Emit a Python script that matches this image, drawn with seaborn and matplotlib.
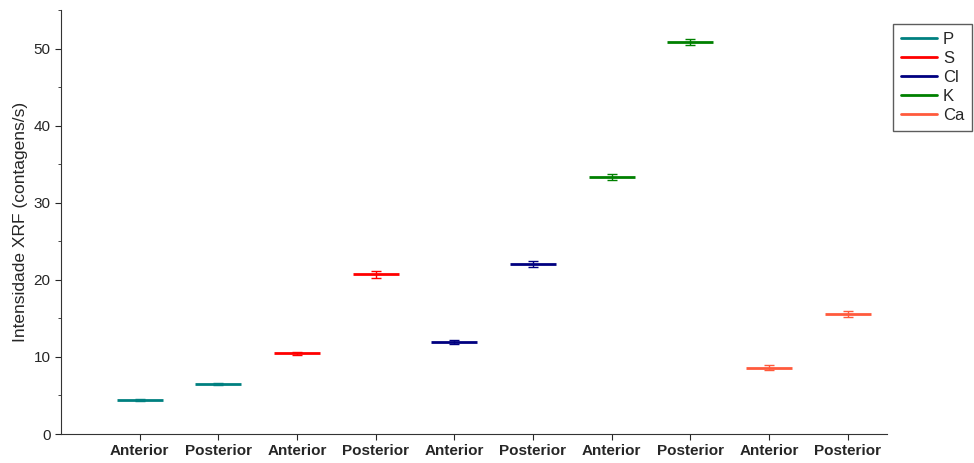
import numpy as np
import pandas as pd
import matplotlib
matplotlib.use('Agg')
import matplotlib.pyplot as plt
from matplotlib.lines import Line2D
import seaborn as sns

elements = ['P', 'S', 'Cl', 'K', 'Ca']
sides = ['Anterior', 'Posterior']
anterior = [4.4, 10.5, 11.9, 33.3, 8.6]
posterior = [6.5, 20.7, 22.0, 50.8, 15.6]
err_anterior = [0.15, 0.2, 0.25, 0.4, 0.35]
err_posterior = [0.15, 0.5, 0.4, 0.4, 0.4]
colors = ['#008080', '#FF0000', '#000080', '#008000', '#FF5A3C']

rows = []
pos = 1
for i, el in enumerate(elements):
    rows.append({'element': el, 'side': 'Anterior', 'x': pos, 'y': anterior[i], 'err': err_anterior[i]})
    rows.append({'element': el, 'side': 'Posterior', 'x': pos + 1, 'y': posterior[i], 'err': err_posterior[i]})
    pos += 2
df = pd.DataFrame(rows)

sns.set_style('ticks')
plt.rcParams['font.family'] = ['Liberation Sans', 'DejaVu Sans']

fig = plt.figure(figsize=(9.74, 4.63), dpi=100)
ax = fig.add_axes([61 / 974, 29 / 463, 826 / 974, 424 / 463])

palette = dict(zip(elements, colors))
sns.scatterplot(data=df, x='x', y='y', hue='element', palette=palette, marker='_',
                s=1100, linewidth=2, legend=False, ax=ax, zorder=3)
for el in elements:
    sub = df[df['element'] == el]
    ax.errorbar(sub['x'], sub['y'], yerr=sub['err'], fmt='none', ecolor=palette[el],
                elinewidth=1, capsize=3.5, capthick=1, zorder=4)

ax.set_xlim(0, 10.5)
ax.set_ylim(0, 55)
ax.set_xticks(df['x'])
ax.set_xticklabels(df['side'], fontweight='bold', fontsize=11)
ax.set_yticks([0, 10, 20, 30, 40, 50])
ax.set_yticks([5, 15, 25, 35, 45, 55], minor=True)
ax.tick_params(axis='y', labelsize=11, direction='out', length=4)
ax.tick_params(axis='y', which='minor', length=2)
ax.tick_params(axis='x', direction='out', length=4)
ax.set_xlabel('')
ax.set_ylabel('Intensidade XRF (contagens/s)', fontsize=12.5)
sns.despine(ax=ax)
for sp in ['left', 'bottom']:
    ax.spines[sp].set_color('#333333')

handles = [Line2D([0], [0], color=c, lw=2) for c in colors]
leg = fig.legend(handles, elements, loc='upper right', bbox_to_anchor=(972 / 974, 1 - 24 / 463),
                 fontsize=12, frameon=True, fancybox=False, handlelength=2.2,
                 borderpad=0.45, labelspacing=0.25, handletextpad=0.35, borderaxespad=0)
leg.get_frame().set_edgecolor('#333333')
leg.get_frame().set_linewidth(1)

fig.savefig('out.png', dpi=100)
